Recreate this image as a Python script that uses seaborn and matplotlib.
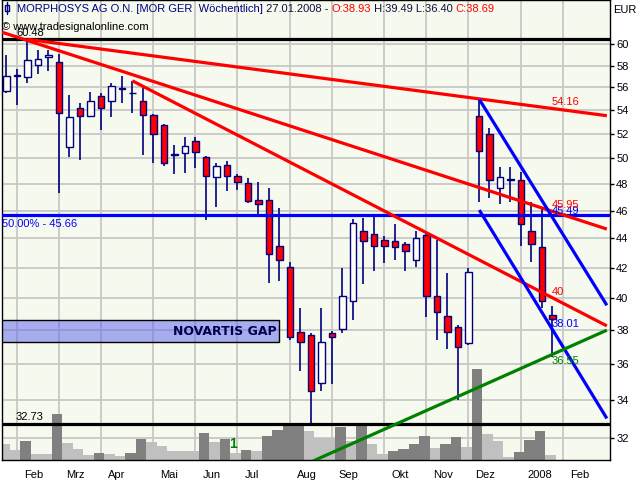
import numpy as np
import pandas as pd
import matplotlib
matplotlib.use("Agg")
import matplotlib.pyplot as plt
import matplotlib.transforms as mtransforms
from matplotlib.patches import Rectangle
from matplotlib.lines import Line2D
from matplotlib.ticker import FixedLocator, FixedFormatter, NullLocator
import seaborn as sns

# ---------------- data (weekly bars, MorphoSys, Jan 2007 - Jan 2008) ----------------
opens = [55.7, 57.0, 56.9, 58.05, 58.8, 58.3, 50.95, 54.2, 53.5, 55.25, 54.8, 55.9, 55.5,
         54.8, 53.6, 52.7, 50.3, 50.4, 51.4, 50.1, 48.5, 49.5, 48.65, 48.1, 46.8, 46.8,
         43.5, 42.05, 37.9, 37.7, 34.9, 37.8, 38.1, 39.8, 44.5, 44.3, 43.9, 43.8, 43.6,
         42.5, 44.25, 40.1, 38.9, 38.2, 37.2, 53.5, 52.0, 47.7, 48.3, 48.3, 44.5, 43.4, 38.93]
highs = [59.0, 57.65, 60.48, 59.5, 59.5, 59.1, 55.35, 54.6, 55.6, 55.5, 56.4, 57.0, 56.6,
         56.2, 53.7, 52.8, 51.1, 51.7, 51.7, 50.2, 49.6, 49.8, 48.8, 48.45, 48.15, 47.7,
         46.2, 42.4, 39.4, 37.8, 39.4, 37.95, 41.95, 45.4, 45.45, 45.6, 44.2, 45.0, 43.75,
         44.5, 44.4, 43.9, 41.65, 38.3, 41.95, 54.95, 52.5, 49.35, 49.3, 48.9, 46.6, 46.1, 39.49]
lows = [55.5, 54.47, 56.4, 57.2, 57.5, 47.3, 50.15, 49.85, 53.4, 52.3, 53.4, 54.6, 53.8,
        50.3, 49.6, 49.4, 48.8, 48.85, 49.25, 45.3, 46.3, 47.45, 47.5, 46.55, 45.6, 40.95,
        41.1, 37.4, 35.6, 32.73, 34.5, 34.85, 37.85, 38.6, 40.9, 41.8, 42.3, 42.5, 41.75,
        42.05, 38.8, 37.4, 36.9, 34.0, 37.1, 46.6, 46.9, 46.5, 46.6, 43.5, 42.4, 39.4, 36.40]
closes = [57.05, 57.1, 58.5, 58.6, 59.0, 53.8, 53.4, 53.5, 54.8, 54.2, 56.1, 55.95, 55.55,
          53.6, 52.0, 49.6, 50.35, 51.0, 50.5, 48.6, 49.4, 48.6, 48.15, 46.7, 46.5, 42.9,
          42.5, 37.6, 37.3, 34.5, 37.3, 37.6, 40.1, 45.1, 43.8, 43.5, 43.5, 43.4, 43.1,
          44.0, 40.1, 39.1, 37.9, 37.0, 41.7, 50.6, 48.3, 48.5, 48.35, 45.0, 43.6, 39.8, 38.69]
volumes = [160, 100, 190, 60, 60, 460, 170, 110, 50, 70, 60, 40, 70, 210, 180,
           140, 90, 90, 90, 270, 180, 210, 70, 100, 90, 240, 300, 350, 360,
           290, 220, 220, 330, 190, 350, 160, 60, 90, 110, 160, 240, 120, 160, 230,
           130, 910, 260, 190, 30, 80, 200, 290, 50]   # thousand shares

month_start_idx = [1, 5, 9, 14, 18, 22, 27, 31, 36, 40, 44, 49, 53]
month_labels = ["Feb", "Mrz", "Apr", "Mai", "Jun", "Jul", "Aug", "Sep", "Okt", "Nov", "Dez", "2008", "Feb"]
price_ticks = [32, 34, 36, 38, 40, 42, 44, 46, 48, 50, 52, 54, 56, 58, 60]

high_level = 60.48
low_level = 32.73
fib_level = 45.66
gap_low, gap_high, gap_end_idx = 37.28, 38.6, 26.0

red_upper_x, red_upper_y = [2.0, 57.2], [60.48, 53.53]
red_mid_x, red_mid_y = [-0.5, 57.2], [61.2, 44.66]
red_low_x, red_low_y = [12.0, 57.2], [56.6, 38.26]
blue_up_x, blue_up_y = [45.05, 57.2], [54.95, 39.54]
blue_low_x, blue_low_y = [45.05, 57.2], [46.04, 33.0]
green_x, green_y = [29.0, 57.2], [30.78, 38.0]

line_labels = [("45.49", 45.49, "#0000FF", "bottom"),
               ("54.16", 54.16, "#FF0000", "bottom"),
               ("45.95", 45.95, "#FF0000", "bottom"),
               ("40", 40.0, "#FF0000", "bottom"),
               ("38.01", 38.01, "#0000FF", "bottom"),
               ("36.55", 36.55, "#008000", "top")]

# ---------------- style ----------------
sns.set_style("white")
plt.rcParams["font.family"] = ["Liberation Sans", "DejaVu Sans"]
plt.rcParams["font.size"] = 8

BG = "#F6F9EE"
GRID = "#C8C8C8"
NAVY = "#000080"
RED = "#FF0000"
W, H = 640, 480

fig = plt.figure(figsize=(6.4, 4.8), dpi=100)
fig.patch.set_facecolor("white")
rect = [2 / W, 20 / H, 608 / W, 460 / H]
XLIM = (-0.41, 57.5)
YLIM = (30.88, 64.4)

ax_vol = fig.add_axes(rect, zorder=0)
ax = fig.add_axes(rect, zorder=1)
ax.patch.set_alpha(0)

idx = np.arange(len(closes))

# ---------------- volume (seaborn) ----------------
vol_dir = ["light"] + ["dark" if volumes[i] > volumes[i - 1] else "light" for i in range(1, len(volumes))]
vdf = pd.DataFrame({"week": idx - 0.17, "volume": volumes, "dir": vol_dir})
sns.barplot(data=vdf, x="week", y="volume", hue="dir", palette={"dark": "#808080", "light": "#C0C0C0"},
            native_scale=True, dodge=False, width=0.97, saturation=1, linewidth=0,
            legend=False, ax=ax_vol, zorder=2)
ax_vol.set_facecolor(BG)
ax_vol.set_xlim(*XLIM)
ax_vol.set_ylim(0, 4600)
ax_vol.set_xticks([])
ax_vol.set_yticks([])
ax_vol.set_xlabel("")
ax_vol.set_ylabel("")
for s in ax_vol.spines.values():
    s.set_visible(False)

# price axes settings
ax.set_yscale("log")
ax.set_xlim(*XLIM)
ax.set_ylim(*YLIM)

# grid drawn on the lower axes so volume bars cover it
for m in month_start_idx:
    ax_vol.axvline(m, color=GRID, lw=1.3, zorder=0)
for p in price_ticks:
    ax_vol.add_line(Line2D([0, 1], [p, p], transform=ax.get_yaxis_transform(), color=GRID, lw=1.3, zorder=0))

ax_vol.text(21.6, 155, "1", color="#008000", fontsize=10, fontweight="bold", ha="center", va="center", zorder=3)

# ---------------- gap box ----------------
ax.add_patch(Rectangle((-1, gap_low), gap_end_idx + 1, gap_high - gap_low,
                       facecolor=(0.35, 0.39, 0.92, 0.5), edgecolor="black", lw=1.0, zorder=1))
ax.text(gap_end_idx - 0.3, (gap_low * gap_high) ** 0.5, "NOVARTIS GAP", ha="right", va="center",
        fontsize=9, fontweight="bold", color="#000050", family=["DejaVu Sans"], zorder=2)

# ---------------- candles ----------------
o = np.array(opens); c = np.array(closes)
body_bottom = np.minimum(o, c)
body_h = np.abs(c - o)
body_col = ["#FFFFF6" if cc >= oo else RED for oo, cc in zip(o, c)]
ax.vlines(idx, lows, highs, color=NAVY, lw=1.2, zorder=3)
ax.bar(idx, body_h, bottom=body_bottom, width=0.62, color=body_col, edgecolor=NAVY, linewidth=1.0, zorder=4)

# ---------------- levels & trendlines ----------------
ax.axhline(high_level, color="black", lw=2.3, zorder=5)
ax.axhline(low_level, color="black", lw=2.3, zorder=5)
ax.axhline(fib_level, color="#0000FF", lw=2.3, zorder=5)
for xs, ys, col in [(red_upper_x, red_upper_y, RED), (red_mid_x, red_mid_y, RED), (red_low_x, red_low_y, RED),
                    (blue_up_x, blue_up_y, "#0000FF"), (blue_low_x, blue_low_y, "#0000FF"),
                    (green_x, green_y, "#008000")]:
    ax.plot(xs, ys, color=col, lw=2.3, zorder=6, solid_capstyle="butt")

ax.annotate(f"{high_level:.2f}", (0.92, high_level), xytext=(0, 1.2), textcoords="offset points",
            ha="left", va="bottom", fontsize=8, color="black", zorder=7)
ax.annotate(f"{low_level:.2f}", (0.92, low_level), xytext=(0, 1.2), textcoords="offset points",
            ha="left", va="bottom", fontsize=8, color="black", zorder=7)
ax.annotate(f"50.00% - {fib_level:.2f}", (0, fib_level), xycoords=ax.get_yaxis_transform(),
            xytext=(0, -2.5), textcoords="offset points", ha="left", va="top", fontsize=8,
            color="#0000FF", zorder=7)
for txt, val, col, va in line_labels:
    ax.annotate(txt, (51.95, val), xytext=(0, 1 if va == "bottom" else -1), textcoords="offset points",
                ha="left", va=va, fontsize=8, color=col, zorder=7)

# ---------------- axes / ticks ----------------
ax.yaxis.set_major_locator(FixedLocator(price_ticks))
ax.yaxis.set_major_formatter(FixedFormatter([str(t) for t in price_ticks]))
ax.yaxis.set_minor_locator(NullLocator())
ax.yaxis.tick_right()
ax.tick_params(axis="y", which="major", direction="out", length=3, width=1, pad=1.5, labelsize=8, colors="black")
ax.set_xticks(month_start_idx)
ax.set_xticklabels(month_labels)
ax.xaxis.set_minor_locator(NullLocator())
ax.tick_params(axis="x", direction="out", length=4, width=1, pad=3, labelsize=8, colors="black")
offset = mtransforms.ScaledTranslation(7 / 100, 0, fig.dpi_scale_trans)
for lbl in ax.get_xticklabels():
    lbl.set_horizontalalignment("left")
    lbl.set_transform(lbl.get_transform() + offset)
ax.grid(False)
for s in ax.spines.values():
    s.set_visible(True)
    s.set_color("black")
    s.set_linewidth(1.0)

# ---------------- header texts ----------------
icon_x = 6.5 / W
fig.add_artist(Line2D([icon_x, icon_x], [1 - 2 / H, 1 - 14 / H], color=NAVY, lw=1.0, transform=fig.transFigure))
fig.add_artist(Rectangle((4.5 / W, 1 - 11 / H), 4 / W, 6 / H, facecolor="white", edgecolor=NAVY, lw=1.0,
                         transform=fig.transFigure))
pieces = [("MORPHOSYS AG O.N. [MOR GER  Wöchentlich]", NAVY),
          (" 27.01.2008 - ", "#101040"),
          ("O:38.93", RED),
          (" H:39.49 L:36.40 ", "#101040"),
          ("C:38.69", RED)]
renderer = fig.canvas.get_renderer()
xpos = 17 / W
for txt, col in pieces:
    t = fig.text(xpos, 1 - 11.5 / H, txt, color=col, fontsize=8, va="baseline", ha="left")
    bb = t.get_window_extent(renderer)
    xpos = bb.x1 / W
fig.text(2 / W, 1 - 29.5 / H, "© www.tradesignalonline.com", fontsize=8, color="black", va="baseline", ha="left")
fig.text(613 / W, 1 - 10 / H, "EUR", fontsize=8, color="black", va="center", ha="left")

fig.savefig("out.png", dpi=100)
